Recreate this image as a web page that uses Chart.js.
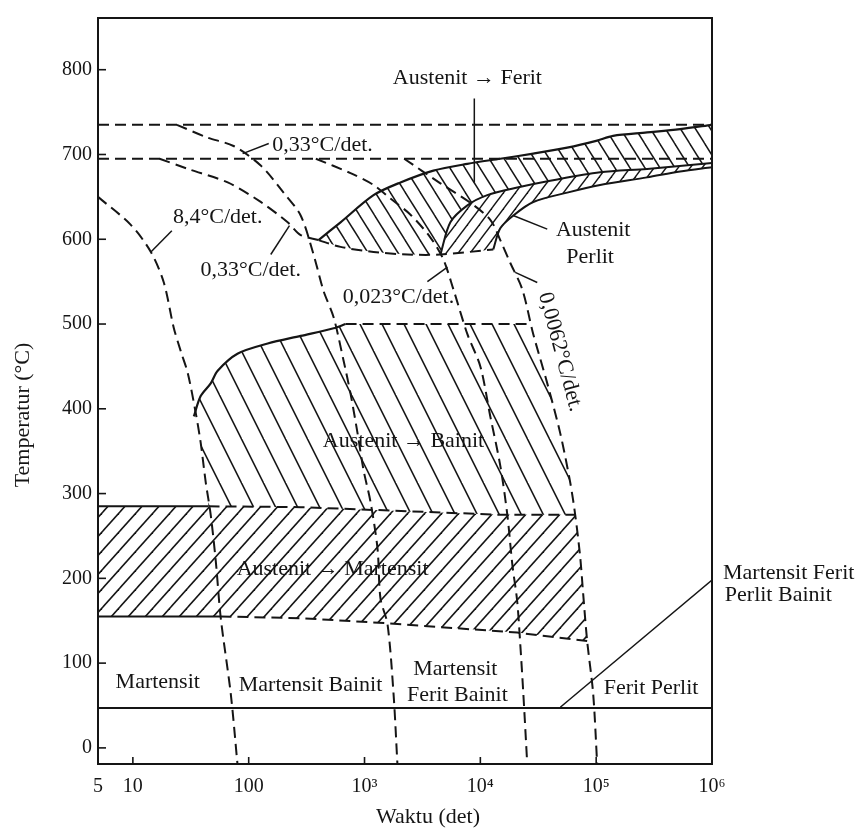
<!DOCTYPE html>
<html>
<head>
<meta charset="utf-8">
<title>Diagram CCT</title>
<script src="https://cdn.jsdelivr.net/npm/chart.js@4.4.1/dist/chart.umd.min.js"></script>
<style>
  html, body { margin: 0; padding: 0; background: #fff; }
  canvas { display: block; }
</style>
</head>
<body>
<canvas id="cct" width="865" height="830"></canvas>
<script>
  // ----- Axis ticks -----
  const xTicks = [5, 10, 100, 1e3, 1e4, 1e5, 1e6];
  const xTickLabels = ["5", "10", "100", "10³", "10⁴", "10⁵", "10⁶"];
  const yTicks = [0, 100, 200, 300, 400, 500, 600, 700, 800];

  // ----- Horizontal lines [waktu (det), suhu (°C)] -----
  const lineAc3 = [[5, 735], [1e6, 735]];
  const lineAc1 = [[5, 695], [1e6, 695]];
  const lineBottom = [[5, 47], [1e6, 47]];
  const msSolid = [[5, 285], [45, 285]];
  const msDashed = [[45, 285], [281, 284], [14860, 275], [65900, 275]];
  const mfSolid = [[5, 155], [57, 155]];
  const mfDashed = [[57, 155], [281, 153], [1579, 147], [20800, 136], [83600, 126]];

  // ----- Cooling curves -----
  const cool84 = [[5, 650], [9.6, 617], [14.3, 585], [18.5, 549], [22.5, 496], [25.9, 468],
    [29.8, 442], [34.9, 395], [38.5, 360], [42.6, 313], [47, 275], [52, 220], [57.4, 153],
    [70, 64], [80, -19]];
  const cool033a = [[24, 735], [44, 720], [74, 710], [127, 687], [200, 655], [281, 628],
    [363, 582], [443, 539], [541, 508], [659, 457], [757, 418], [871, 371], [980, 328],
    [1127, 290], [1295, 235], [1374, 176], [1579, 146], [1780, 64], [1923, -19]];
  const cool033b = [[17, 695], [29.8, 683], [65.9, 667], [127, 644], [217, 620], [281, 605], [401, 599]];
  const cool0023 = [[380, 695], [757, 678], [1197, 664], [1675, 648], [2495, 629], [3710, 602],
    [4800, 576], [5850, 541], [7730, 488], [10000, 450], [12190, 391], [14860, 333],
    [17100, 275], [18900, 216], [20800, 173], [22100, 123], [23500, 64], [25400, -19]];
  const cool00062 = [[2200, 695], [4520, 666], [8200, 643], [12190, 623], [14860, 599],
    [18150, 572], [23000, 541], [28640, 488], [37830, 430], [48980, 371], [59700, 313],
    [65900, 275], [72800, 225], [77300, 181], [83600, 126], [94200, 64], [102000, -19]];

  // ----- Transformation curves -----
  const bainitTop = [[33.6, 391], [38.5, 415], [47, 430], [54, 445], [80, 465], [146, 477],
    [281, 486], [541, 495], [686, 500]];
  const bainitTopDashed = [[686, 500], [27000, 500]];
  const feritStart = [[401, 599], [621, 620], [1196, 652], [2042, 667], [3936, 681], [7727, 689],
    [14860, 695], [28600, 701], [56200, 708], [100000, 716], [140000, 722], [275000, 726],
    [530000, 730], [1e6, 735]];
  const feritNoseBottom = [[401, 599], [621, 591], [1196, 585], [2350, 582], [4520, 582], [12940, 588]];
  const perlitStart = [[4520, 582], [5510, 620], [7730, 640], [11480, 652], [20840, 661],
    [40090, 669], [108100, 679], [275000, 683], [1e6, 690]];
  const perlitEnd = [[12940, 588], [14860, 613], [19230, 628], [28640, 644], [56230, 655],
    [108100, 664], [275000, 673], [530000, 680], [1e6, 685]];

  // ----- Pointer lines for the labels -----
  const pointers = [
    [[8870, 766], [8870, 667]],
    [[88.7, 701], [149, 713]],
    [[155, 582], [225, 616]],
    [[14.3, 585], [21.7, 610]],
    [[3490, 550], [5200, 567]],
    [[19200, 628], [37800, 612]],
    [[20000, 561], [31000, 549]],
    [[49000, 48], [1e6, 198]]
  ];

  // ----- Text annotations (placed at waktu / suhu values) -----
  const annotations = [
    { text: "Austenit → Ferit", t: 7730, T: 790 },
    { text: "0,33°C/det.", t: 434, T: 711 },
    { text: "8,4°C/det.", t: 54, T: 626 },
    { text: "0,33°C/det.", t: 104, T: 563 },
    { text: "0,023°C/det.", t: 1963, T: 532 },
    { text: "Austenit", t: 94200, T: 611 },
    { text: "Perlit", t: 88700, T: 579 },
    { text: "Austenit → Bainit", t: 2170, T: 362 },
    { text: "Austenit → Martensit", t: 530, T: 211 },
    { text: "Martensit", t: 16.4, T: 77 },
    { text: "Martensit Bainit", t: 342, T: 74 },
    { text: "Martensit", t: 6080, T: 93 },
    { text: "Ferit Bainit", t: 6330, T: 62 },
    { text: "Ferit Perlit", t: 298000, T: 70 },
    { text: "Martensit Ferit", t: 1.245e6, T: 206, align: "left" },
    { text: "Perlit Bainit", t: 1.29e6, T: 180, align: "left" },
    { text: "0,0062°C/det.", t: 49000, T: 467, rot: 75 }
  ];

  const ink = "#151515";
  const fontFamily = "'Liberation Serif', 'DejaVu Serif', serif";

  // ----- Hatched areas, built from the curves above -----
  const martensitArea = msSolid.concat(
    msDashed.slice(1),
    cool00062.filter((p) => p[1] < 275 && p[1] > 126),
    mfDashed.slice().reverse(),
    [mfSolid[0]]
  );
  const bainitArea = bainitTop.concat(
    bainitTopDashed.slice(1),
    cool00062.filter((p) => p[1] < 500 && p[1] > 275),
    msDashed.slice().reverse(),
    cool84.filter((p) => p[1] > 285 && p[1] < 391).reverse()
  );
  const feritArea = feritStart.concat(
    perlitStart.slice().reverse(),
    feritNoseBottom.filter((p) => p[0] < 4520).reverse()
  );
  const perlitArea = perlitStart.concat(perlitEnd.slice().reverse());

  function hatch(w, h, dir, lw) {
    const c = document.createElement("canvas");
    c.width = w;
    c.height = h;
    const g = c.getContext("2d");
    g.strokeStyle = ink;
    g.lineWidth = lw;
    for (let k = -1; k <= 1; k++) {
      g.beginPath();
      if (dir === "back") {
        g.moveTo(k * w - w, -h);
        g.lineTo(k * w + 2 * w, 2 * h);
      } else {
        g.moveTo(k * w - w, 2 * h);
        g.lineTo(k * w + 2 * w, -h);
      }
      g.stroke();
    }
    return g.createPattern(c, "repeat");
  }

  function toXY(list) {
    return list.map((p) => ({ x: p[0], y: p[1] }));
  }

  function lineSet(data, dashed, width, tension) {
    return {
      data: toXY(data),
      borderColor: ink,
      borderWidth: width || 2,
      borderDash: dashed ? [11, 6] : [],
      pointRadius: 0,
      fill: false,
      tension: tension || 0,
      order: 1
    };
  }

  function areaSet(data, pattern) {
    return {
      data: toXY(data),
      borderColor: "rgba(0,0,0,0)",
      borderWidth: 0,
      backgroundColor: pattern,
      fill: "shape",
      pointRadius: 0,
      tension: 0,
      order: 3
    };
  }

  const datasets = [
    areaSet(martensitArea, hatch(17, 19, "fwd", 1.6)),
    areaSet(bainitArea, hatch(22, 44, "back", 1.6)),
    areaSet(feritArea, hatch(15, 24, "back", 1.5)),
    areaSet(perlitArea, hatch(12, 16, "fwd", 1.4)),
    lineSet(lineAc3, true),
    lineSet(lineAc1, true),
    lineSet(lineBottom, false),
    lineSet(msSolid, false),
    lineSet(msDashed, true),
    lineSet(mfSolid, false),
    lineSet(mfDashed, true),
    lineSet(cool84, true, 2, 0.3),
    lineSet(cool033a, true, 2, 0.3),
    lineSet(cool033b, true, 2, 0.3),
    lineSet(cool0023, true, 2, 0.3),
    lineSet(cool00062, true, 2, 0.3),
    lineSet(bainitTop, false, 2.2, 0.3),
    lineSet(bainitTopDashed, true),
    lineSet(feritStart, false, 2.2, 0.3),
    lineSet(feritNoseBottom, true, 2, 0.3),
    lineSet(perlitStart, false, 2, 0.3),
    lineSet(perlitEnd, false, 2, 0.3)
  ];
  pointers.forEach((seg) => datasets.push(lineSet(seg, false, 1.5)));

  const overlay = {
    id: "overlay",
    afterDatasetsDraw(chart) {
      const { ctx, chartArea: a, scales } = chart;
      const x = scales.x;
      const y = scales.y;
      ctx.save();
      ctx.strokeStyle = ink;
      ctx.lineWidth = 2;
      ctx.strokeRect(a.left, a.top, a.right - a.left, a.bottom - a.top);

      // inward tick marks
      ctx.lineWidth = 1.6;
      yTicks.forEach((v) => {
        const py = y.getPixelForValue(v);
        ctx.beginPath();
        ctx.moveTo(a.left, py);
        ctx.lineTo(a.left + 8, py);
        ctx.stroke();
      });
      xTicks.slice(1, -1).forEach((v) => {
        const px = x.getPixelForValue(v);
        ctx.beginPath();
        ctx.moveTo(px, a.bottom);
        ctx.lineTo(px, a.bottom - 7);
        ctx.stroke();
      });

      // labels
      ctx.fillStyle = ink;
      ctx.font = "22px " + fontFamily;
      ctx.textBaseline = "middle";
      annotations.forEach((n) => {
        const px = x.getPixelForValue(n.t);
        const py = y.getPixelForValue(n.T);
        ctx.save();
        ctx.translate(px, py);
        if (n.rot) ctx.rotate((n.rot * Math.PI) / 180);
        ctx.textAlign = n.align || "center";
        ctx.fillText(n.text, 0, 0);
        ctx.restore();
      });

      // axis titles
      ctx.font = "22px " + fontFamily;
      ctx.textAlign = "center";
      ctx.fillText("Waktu (det)", (a.left + a.right) / 2 + 23, a.bottom + 53);
      ctx.save();
      ctx.translate(a.left - 75, (a.top + a.bottom) / 2 + 24);
      ctx.rotate(-Math.PI / 2);
      ctx.fillText("Temperatur (°C)", 0, 0);
      ctx.restore();
      ctx.restore();
    }
  };

  new Chart(document.getElementById("cct"), {
    type: "line",
    data: { datasets },
    options: {
      responsive: false,
      animation: false,
      layout: { padding: { left: 0, right: 153, top: 11, bottom: 0 } },
      plugins: { legend: { display: false }, tooltip: { enabled: false } },
      scales: {
        x: {
          type: "logarithmic",
          min: 5,
          max: 1e6,
          afterBuildTicks: (s) => { s.ticks = xTicks.map((v) => ({ value: v })); },
          afterFit: (s) => { s.height = 66; },
          grid: { display: false, drawTicks: false },
          border: { display: false },
          ticks: {
            autoSkip: false,
            maxRotation: 0,
            padding: 11,
            color: ink,
            font: { family: fontFamily, size: 20 },
            callback: (v, i) => xTickLabels[i]
          }
        },
        y: {
          type: "linear",
          min: -19,
          max: 861,
          afterBuildTicks: (s) => { s.ticks = yTicks.map((v) => ({ value: v })); },
          afterFit: (s) => { s.width = 98; },
          grid: { display: false, drawTicks: false },
          border: { display: false },
          ticks: {
            padding: 6,
            color: ink,
            font: { family: fontFamily, size: 20 },
            callback: (v) => String(v)
          }
        }
      }
    },
    plugins: [overlay]
  });
</script>
</body>
</html>
